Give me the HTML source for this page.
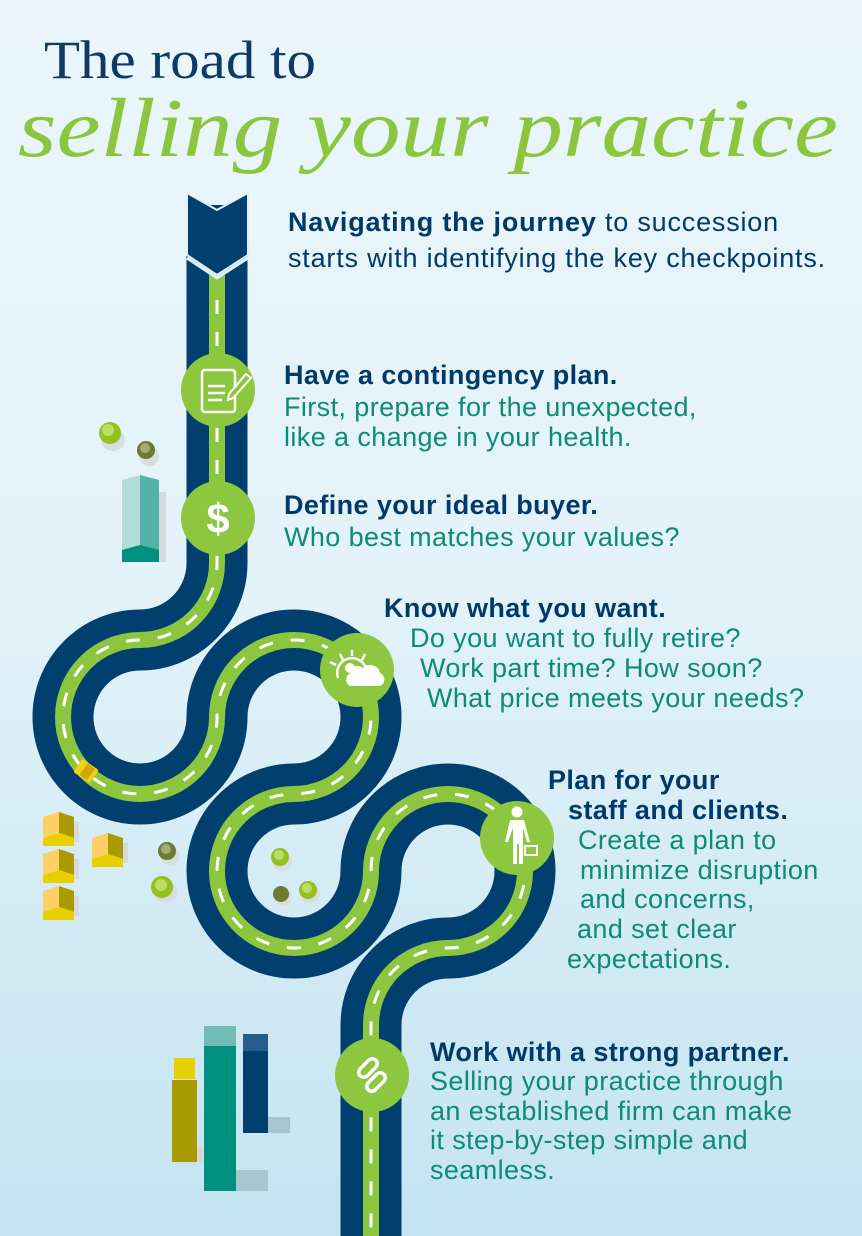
<!DOCTYPE html>
<html><head><meta charset="utf-8"><style>
html,body{margin:0;padding:0}
body{width:862px;height:1236px;overflow:hidden;position:relative;background:linear-gradient(#eaf6fb 0%,#e4f3f9 45%,#c4e4f1 100%);font-family:"Liberation Sans",sans-serif}
svg{position:absolute;left:0;top:0}
.t{position:absolute;font-size:27px;letter-spacing:0.4px;line-height:30px;white-space:nowrap;color:#0e8a78}
.h{color:#003a6b;font-weight:bold}
</style></head><body>
<svg width="862" height="1236" viewBox="0 0 862 1236">
<text x="44" y="78" font-family="Liberation Serif,serif" font-size="54" fill="#0d3a66" textLength="272" lengthAdjust="spacingAndGlyphs">The road to</text>
<text x="18" y="156" font-family="Liberation Serif,serif" font-style="italic" font-size="84" fill="#8cc63f" textLength="820" lengthAdjust="spacingAndGlyphs">selling your practice</text>

<ellipse cx="113" cy="440" rx="12" ry="11" fill="#d8dde0"/>
<circle cx="110" cy="433" r="11" fill="#94c11f"/><circle cx="108" cy="430" r="6" fill="#bcdd6a"/>
<ellipse cx="149" cy="456" rx="10" ry="10" fill="#d8dde0"/>
<circle cx="146" cy="450" r="9" fill="#6f7a33"/><circle cx="145" cy="448" r="5" fill="#a2ab7a"/>
<rect x="158" y="492" width="8" height="70" fill="#d6d9db"/>
<polygon points="122,480 140,475 140,555 122,550" fill="#b2dcd8"/>
<polygon points="140,475 159,480 159,550 140,555" fill="#54b2a8"/>
<polygon points="122,550 140,545 159,550 159,562 122,562" fill="#00907f"/>

<g fill="none">
<path d="M217,205 V563 A77,77 0 0 1 140,640 A77,77 0 0 0 63,717 A77,77 0 0 0 140,794 A77,77 0 0 0 217,717 A77,77 0 0 1 294,640 A77,77 0 0 1 371,717 A77,77 0 0 1 294,794 A77,77 0 0 0 217,871 A77,77 0 0 0 294,948 A77,77 0 0 0 371,871 A77,77 0 0 1 448,794 A77,77 0 0 1 525,871 A77,77 0 0 1 448,948 A77,77 0 0 0 371,1025 V1240" stroke="#003f6e" stroke-width="61"/>
<path d="M217,275 V563 A77,77 0 0 1 140,640 A77,77 0 0 0 63,717 A77,77 0 0 0 140,794 A77,77 0 0 0 217,717 A77,77 0 0 1 294,640 A77,77 0 0 1 371,717 A77,77 0 0 1 294,794 A77,77 0 0 0 217,871 A77,77 0 0 0 294,948 A77,77 0 0 0 371,871 A77,77 0 0 1 448,794 A77,77 0 0 1 525,871 A77,77 0 0 1 448,948 A77,77 0 0 0 371,1025 V1240" stroke="#8cc63f" stroke-width="16"/>
<path d="M217,300 V563 A77,77 0 0 1 140,640 A77,77 0 0 0 63,717 A77,77 0 0 0 140,794 A77,77 0 0 0 217,717 A77,77 0 0 1 294,640 A77,77 0 0 1 371,717 A77,77 0 0 1 294,794 A77,77 0 0 0 217,871 A77,77 0 0 0 294,948 A77,77 0 0 0 371,871 A77,77 0 0 1 448,794 A77,77 0 0 1 525,871 A77,77 0 0 1 448,948 A77,77 0 0 0 371,1025 V1240" stroke="#fff" stroke-width="3" stroke-dasharray="14 18"/>
</g>
<polygon points="187,193 217,210 248,193 248,255 217,275 187,255" fill="#003f6e" stroke="#dff0f7" stroke-width="2"/>
<polyline points="187,258 217,278 248,258" fill="none" stroke="#dff0f7" stroke-width="3"/>

<g transform="translate(86,771) rotate(35)"><rect x="-10" y="-8" width="20" height="16" rx="2" fill="#f3cf1a"/><rect x="-3" y="-7" width="9" height="14" fill="#d1a800"/></g>

<g fill="#8dc63f">
<circle cx="218" cy="390" r="37"/><circle cx="218" cy="518" r="37"/>
<circle cx="357" cy="670" r="37"/><circle cx="517" cy="838" r="37"/><circle cx="372" cy="1075" r="37"/>
</g>
<rect x="202" y="370" width="33" height="42" rx="3" fill="none" stroke="#fff" stroke-width="2.5"/>
<g stroke="#fff" stroke-width="2.5"><line x1="208" y1="386" x2="225" y2="386"/><line x1="208" y1="393" x2="225" y2="393"/><line x1="208" y1="400" x2="222" y2="400"/></g>
<polygon points="246,374 251,378 233,398 228,400 229,394" fill="#8dc63f" stroke="#fff" stroke-width="2"/>
<text x="218" y="533" text-anchor="middle" font-family="Liberation Sans,sans-serif" font-weight="bold" font-size="42" fill="#fff">$</text>
<g stroke="#fff" stroke-width="2.5" fill="none"><line x1="352" y1="650" x2="352" y2="656"/><line x1="340" y1="654" x2="343" y2="660"/><line x1="365" y1="654" x2="362" y2="660"/><line x1="330" y1="662" x2="336" y2="665"/><path d="M338,678 A14,14 0 0 1 366,668"/></g>
<circle cx="350" cy="668" r="5" fill="#fff"/>
<path d="M350,686 h30 a7,7 0 0 0 0,-13 a10,10 0 0 0 -17,-5 a7,7 0 0 0 -12,5 a7,7 0 0 0 -1,13z" fill="#fff"/>
<circle cx="517" cy="812" r="5.5" fill="#fff"/>
<path d="M510,820 h14 l6,22 h-3 l-4,-14 v36 h-4 v-20 h-2 v20 h-4 v-36 l-5,14 h-3z" fill="#fff"/>
<rect x="525" y="846" width="12" height="9" fill="none" stroke="#fff" stroke-width="2"/>
<g fill="none" stroke="#fff" stroke-width="3.5"><rect x="363" y="1057" width="10" height="22" rx="5" transform="rotate(45 368 1068)"/><rect x="371" y="1071" width="10" height="22" rx="5" transform="rotate(45 376 1082)"/></g>

<ellipse cx="282" cy="862" rx="10" ry="9" fill="#d8dde0"/><circle cx="280" cy="857" r="9" fill="#94c11f"/><circle cx="279" cy="855" r="5" fill="#bcdd6a"/>
<ellipse cx="283" cy="897" rx="9" ry="8" fill="#d8dde0"/><circle cx="281" cy="894" r="8" fill="#6f7a33"/>
<ellipse cx="310" cy="894" rx="10" ry="9" fill="#d8dde0"/><circle cx="308" cy="890" r="9" fill="#94c11f"/><circle cx="307" cy="888" r="5" fill="#bcdd6a"/>
<ellipse cx="170" cy="856" rx="10" ry="9" fill="#d8dde0"/><circle cx="167" cy="851" r="9" fill="#6f7a33"/><circle cx="166" cy="849" r="5" fill="#a2ab7a"/>
<ellipse cx="165" cy="892" rx="12" ry="11" fill="#d8dde0"/><circle cx="162" cy="887" r="11" fill="#94c11f"/><circle cx="161" cy="885" r="6" fill="#bcdd6a"/>
<g id="hs">
<rect x="73" y="822" width="6" height="20" fill="#d6d9db"/>
<polygon points="43,817 59,812 59,833 43,838" fill="#fdd063"/><polygon points="59,812 74,817 74,838 59,833" fill="#a99a00"/>
<polygon points="43,838 59,833 74,838 74,846 43,846" fill="#e8d000"/>
</g>
<use href="#hs" y="37"/><use href="#hs" y="74"/><use href="#hs" x="49" y="21"/>
<rect x="197" y="1146" width="6" height="16" fill="#d6d9db"/>
<rect x="172" y="1080" width="25" height="82" fill="#a99a00"/>
<rect x="174" y="1058" width="21" height="21" fill="#e8d000"/>
<rect x="235" y="1170" width="33" height="21" fill="#a5c5cf"/>
<rect x="204" y="1045" width="32" height="146" fill="#00907f"/>
<rect x="204" y="1026" width="32" height="20" fill="#72bdb6"/>
<rect x="268" y="1117" width="22" height="16" fill="#a5c5cf"/>
<rect x="243" y="1051" width="25" height="82" fill="#003f6e"/>
<rect x="243" y="1034" width="25" height="17" fill="#275d8c"/>
</svg>

<div class="t h" style="left:288px;top:204px;line-height:36px;letter-spacing:0.8px">Navigating the journey <span style="font-weight:normal">to succession</span></div>
<div class="t" style="left:288px;top:240px;line-height:36px;letter-spacing:0.8px;color:#003a6b">starts with identifying the key checkpoints.</div>

<div class="t h" style="left:284px;top:360px">Have a contingency plan.</div>
<div class="t" style="left:284px;top:392px">First, prepare for the unexpected,<br>like a change in your health.</div>

<div class="t h" style="left:284px;top:490px">Define your ideal buyer.</div>
<div class="t" style="left:284px;top:522px">Who best matches your values?</div>

<div class="t h" style="left:384px;top:593px">Know what you want.</div>
<div class="t" style="left:410px;top:623px">Do you want to fully retire?</div>
<div class="t" style="left:420px;top:653px">Work part time? How soon?</div>
<div class="t" style="left:427px;top:683px">What price meets your needs?</div>

<div class="t h" style="left:548px;top:765px">Plan for your</div>
<div class="t h" style="left:568px;top:795px">staff and clients.</div>
<div class="t" style="left:578px;top:825px">Create a plan to</div>
<div class="t" style="left:580px;top:855px">minimize disruption</div>
<div class="t" style="left:580px;top:884px">and concerns,</div>
<div class="t" style="left:577px;top:914px">and set clear</div>
<div class="t" style="left:567px;top:944px">expectations.</div>

<div class="t h" style="left:430px;top:1037px">Work with a strong partner.</div>
<div class="t" style="left:430px;top:1067px;line-height:29.5px">Selling your practice through<br>an established firm can make<br>it step-by-step simple and<br>seamless.</div>
</body></html>
